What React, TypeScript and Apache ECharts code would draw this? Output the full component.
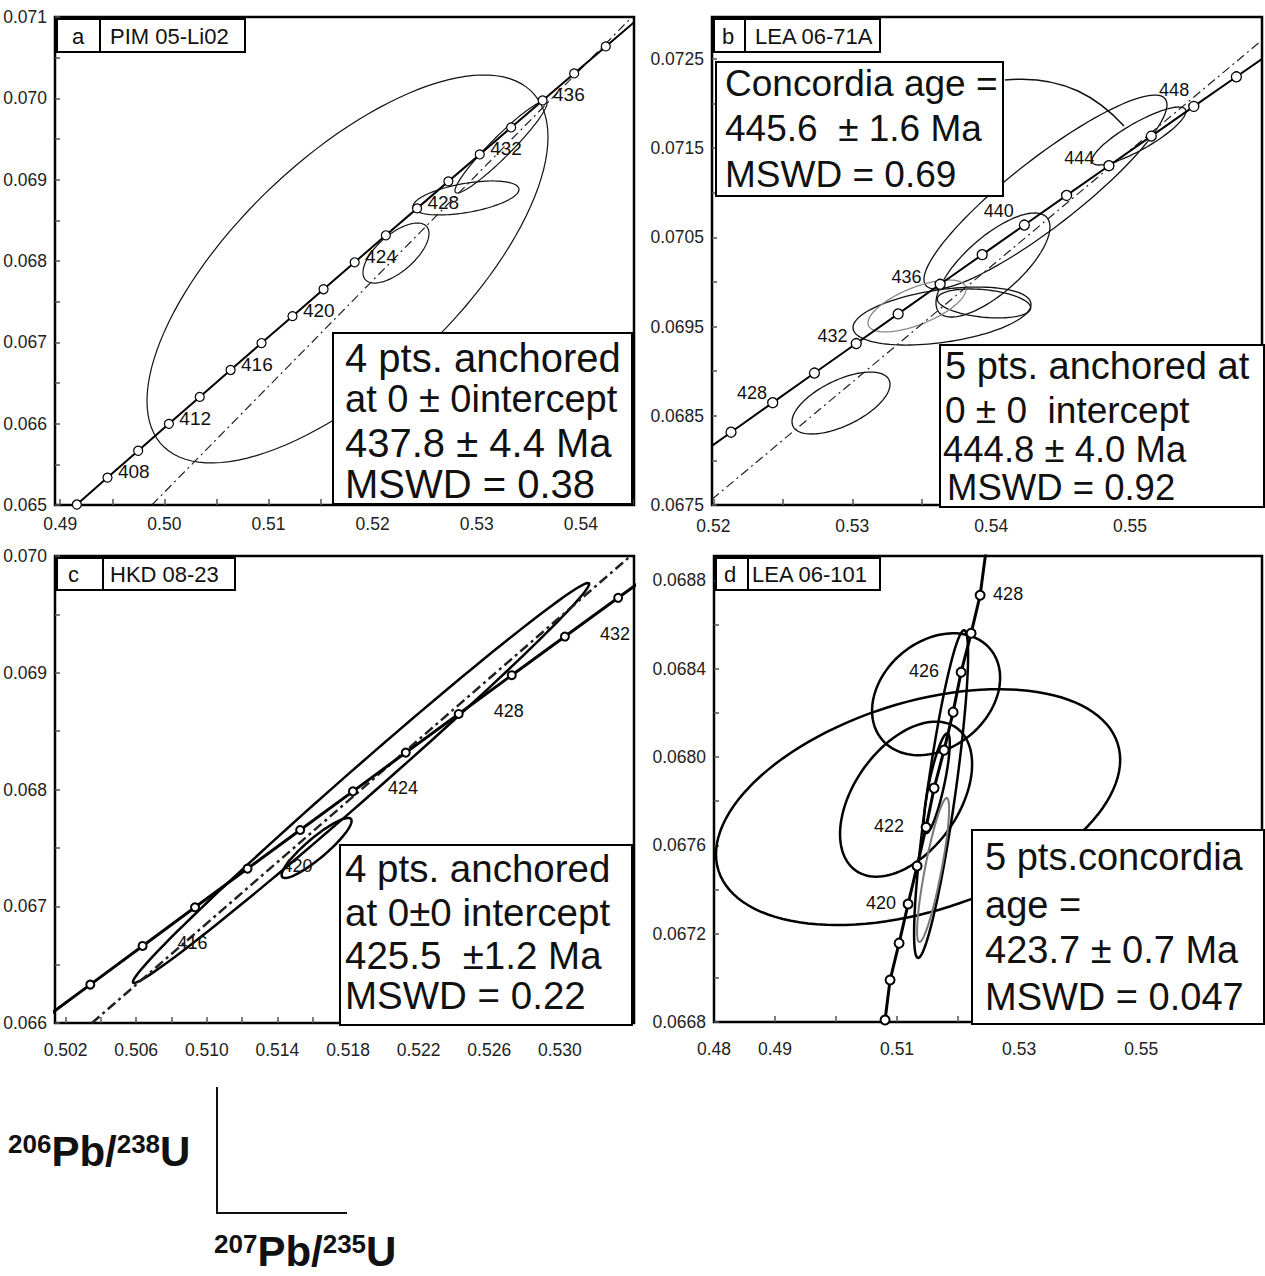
import React, { useEffect, useRef } from "react";
import * as echarts from "echarts";

// ===================== Panel a : PIM 05-Li02 =====================
const agesA = [404, 406, 408, 410, 412, 414, 416, 418, 420, 422, 424, 426, 428, 430, 432, 434, 436, 438, 440, 442, 444];
const xA = [0.488665, 0.4916, 0.494541, 0.497487, 0.50044, 0.503398, 0.506362, 0.509332, 0.512308, 0.515289, 0.518277, 0.52127, 0.52427, 0.527275, 0.530286, 0.533303, 0.536326, 0.539355, 0.54239, 0.545431, 0.548478];
const yA = [0.064676, 0.065006, 0.065337, 0.065667, 0.065998, 0.066329, 0.06666, 0.066991, 0.067322, 0.067653, 0.067984, 0.068316, 0.068647, 0.068979, 0.06931, 0.069642, 0.069974, 0.070306, 0.070638, 0.07097, 0.071303];
const labelAgesA = [408, 412, 416, 420, 424, 428, 432, 436];
const discXA = [0.4988, 0.5449];
const discYA = [0.065, 0.071];
// ellipse: [centre 207Pb/235U, centre 206Pb/238U, half-range x, half-range y, correlation]
const ellipsesA = [
  [0.517587, 0.067902, 0.019253, 0.002385, 0.68],
  [0.522244, 0.068098, 0.003169, 0.000369, 0.65],
  [0.528966, 0.068775, 0.005089, 0.000209, 0.5],
  [0.532327, 0.069402, 0.004417, 0.000566, 0.95],
];
const xTicksA = [0.49, 0.495, 0.5, 0.505, 0.51, 0.515, 0.52, 0.525, 0.53, 0.535, 0.54, 0.545];
const xLabelsA = [0.49, 0.5, 0.51, 0.52, 0.53, 0.54];
const yTicksA = [0.065, 0.0655, 0.066, 0.0665, 0.067, 0.0675, 0.068, 0.0685, 0.069, 0.0695, 0.07, 0.0705, 0.071];
const yLabelsA = [0.065, 0.066, 0.067, 0.068, 0.069, 0.07, 0.071];

// ===================== Panel b : LEA 06-71A =====================
const agesB = [424, 426, 428, 430, 432, 434, 436, 438, 440, 442, 444, 446, 448, 450, 452];
const xB = [0.518277, 0.52127, 0.52427, 0.527275, 0.530286, 0.533303, 0.536326, 0.539355, 0.54239, 0.545431, 0.548478, 0.551531, 0.55459, 0.557655, 0.560726];
const yB = [0.067984, 0.068316, 0.068647, 0.068979, 0.06931, 0.069642, 0.069974, 0.070306, 0.070638, 0.07097, 0.071303, 0.071635, 0.071968, 0.0723, 0.072633];
const labelAgesB = [428, 432, 436, 440, 444, 448];
const discXB = [0.5199, 0.5595];
const discYB = [0.067564, 0.07271];
const ellipsesB = [
  [0.54391, 0.071008, 0.008748, 0.001087, 0.9],
  [0.54013, 0.07019, 0.004104, 0.000583, 0.73],
  [0.539484, 0.069759, 0.003362, 0.0001625, -0.3],
  [0.53646, 0.069618, 0.006408, 0.000325, 0.4],
  [0.55064, 0.071636, 0.003384, 0.000325, 0.85],
  [0.529188, 0.068643, 0.003528, 0.000347, 0.6],
];
const ellipsesBGrey = [[0.53466, 0.069731, 0.003528, 0.000291, 0.65]];
const xTicksB = [0.52, 0.525, 0.53, 0.535, 0.54, 0.545, 0.55, 0.555];
const xLabelsB = [0.52, 0.53, 0.54, 0.55];
const yTicksB = [0.0675, 0.068, 0.0685, 0.069, 0.0695, 0.07, 0.0705, 0.071, 0.0715, 0.072, 0.0725];
const yLabelsB = [0.0675, 0.0685, 0.0695, 0.0705, 0.0715, 0.0725];

// ===================== Panel c : HKD 08-23 =====================
const agesC = [412, 414, 416, 418, 420, 422, 424, 426, 428, 430, 432, 434, 436];
const xC = [0.50044, 0.503398, 0.506362, 0.509332, 0.512308, 0.515289, 0.518277, 0.52127, 0.52427, 0.527275, 0.530286, 0.533303, 0.536326];
const yC = [0.065998, 0.066329, 0.06666, 0.066991, 0.067322, 0.067653, 0.067984, 0.068316, 0.068647, 0.068979, 0.06931, 0.069642, 0.069974];
const labelAgesC = [416, 420, 424, 428, 432];
const discXC = [0.50349, 0.534];
const discYC = [0.066, 0.07];
const ellipsesC = [
  [0.518737, 0.068056, 0.012925, 0.001713, 0.995],
  [0.51622, 0.067499, 0.00198, 0.000257, 0.9],
];
const xTicksC = [0.502, 0.504, 0.506, 0.508, 0.51, 0.512, 0.514, 0.516, 0.518, 0.52, 0.522, 0.524, 0.526, 0.528, 0.53, 0.532];
const xLabelsC = [0.502, 0.506, 0.51, 0.514, 0.518, 0.522, 0.526, 0.53];
const yTicksC = [0.066, 0.0665, 0.067, 0.0675, 0.068, 0.0685, 0.069, 0.0695, 0.07];
const yLabelsC = [0.066, 0.067, 0.068, 0.069, 0.07];

// ===================== Panel d : LEA 06-101 =====================
const agesD = [428, 427, 426, 425, 424, 423, 422, 421, 420, 419, 418, 417];
const xD = [0.523607, 0.522131, 0.520492, 0.51918, 0.517705, 0.516066, 0.514754, 0.513279, 0.511803, 0.510328, 0.508852, 0.508033];
const yD = [0.068732, 0.06856, 0.068384, 0.068203, 0.068031, 0.067859, 0.067682, 0.067506, 0.067334, 0.067157, 0.06699, 0.066809];
const lineXD = [0.5248, 0.523607, 0.522131, 0.520492, 0.51918, 0.517705, 0.516066, 0.514754, 0.513279, 0.511803, 0.510328, 0.508852, 0.508033, 0.5073];
const lineYD = [0.06898, 0.068732, 0.06856, 0.068384, 0.068203, 0.068031, 0.067859, 0.067682, 0.067506, 0.067334, 0.067157, 0.06699, 0.066809, 0.06672];
const labelAgesD = [428, 426, 422, 420];
const ellipsesD = [
  [0.516393, 0.068284, 0.010492, 0.000276, 0.27],
  [0.513443, 0.067773, 0.033115, 0.000534, 0.4],
  [0.511475, 0.067809, 0.01082, 0.000351, 0.45],
  [0.517213, 0.067832, 0.004426, 0.000742, 0.85],
  [0.516508, 0.067881, 0.00213, 0.000226, 0.8],
];
const ellipsesDGrey = [[0.515902, 0.067488, 0.002623, 0.000326, 0.85]];
const xTicksD = [0.49, 0.5, 0.51, 0.52, 0.53, 0.54, 0.55, 0.56];
const xLabelsD = [0.48, 0.49, 0.51, 0.53, 0.55];
const yTicksD = [0.0668, 0.067, 0.0672, 0.0674, 0.0676, 0.0678, 0.068, 0.0682, 0.0684, 0.0686, 0.0688];
const yLabelsD = [0.0668, 0.0672, 0.0676, 0.068, 0.0684, 0.0688];

// ===================== layout / style =====================
const FONT = "Liberation Sans";
const grids = [
  { left: 55, top: 17, width: 579, height: 488 },
  { left: 712, top: 17, width: 550, height: 488 },
  { left: 55, top: 556, width: 579, height: 467 },
  { left: 714, top: 556, width: 548, height: 466 },
];
const ranges = [
  { x: [0.4895, 0.5451], y: [0.065, 0.071] },
  { x: [0.5199, 0.5595], y: [0.0675, 0.07297] },
  { x: [0.5014, 0.5342], y: [0.066, 0.07] },
  { x: [0.48, 0.5698], y: [0.0668, 0.06891] },
];

function xAxisCfg(i: number, ticks: number[], labels: number[], digits: number, margin: number) {
  return {
    type: "value", gridIndex: i, min: ranges[i].x[0], max: ranges[i].x[1],
    axisLine: { show: false }, splitLine: { show: false },
    axisTick: { show: true, inside: true, length: 6, customValues: ticks, lineStyle: { color: "#555", width: 1.5 } },
    axisLabel: { show: true, customValues: labels, formatter: (v: number) => v.toFixed(digits), fontSize: 17.5, color: "#222", fontFamily: FONT, margin },
  };
}
function yAxisCfg(i: number, ticks: number[], labels: number[], digits: number) {
  return {
    type: "value", gridIndex: i, min: ranges[i].y[0], max: ranges[i].y[1],
    axisLine: { show: false }, splitLine: { show: false },
    axisTick: { show: true, inside: true, length: 5, customValues: ticks, lineStyle: { color: "#555", width: 1.5 } },
    axisLabel: { show: true, customValues: labels, formatter: (v: number) => v.toFixed(digits), fontSize: 17.5, color: "#222", fontFamily: FONT, margin: 8 },
  };
}

function lineSeries(i: number, xs: number[], ys: number[], width: number) {
  return {
    type: "line", xAxisIndex: i, yAxisIndex: i, data: xs.map((x, k) => [x, ys[k]]),
    showSymbol: false, symbol: "none", lineStyle: { color: "#000", width }, clip: true, z: 4, silent: true,
  };
}
function discSeries(i: number, xs: number[], ys: number[], width: number, dash: number[]) {
  return {
    type: "line", xAxisIndex: i, yAxisIndex: i, data: xs.map((x, k) => [x, ys[k]]),
    showSymbol: false, symbol: "none", lineStyle: { color: "#222", width, type: dash }, clip: true, z: 3, silent: true,
  };
}
function markerSeries(
  i: number, xs: number[], ys: number[], ages: number[], labeled: number[], size: number, bw: number,
  labelOf: (age: number) => { dx: number; dy: number; align: string }, fontSize: number
) {
  return {
    type: "scatter", xAxisIndex: i, yAxisIndex: i, clip: true, z: 6, silent: true,
    symbol: "circle", symbolSize: size,
    itemStyle: { color: "#fff", borderColor: "#000", borderWidth: bw, opacity: 1 },
    data: xs.map((x, k) => {
      const age = ages[k];
      if (!labeled.includes(age)) return { value: [x, ys[k]] };
      const l = labelOf(age);
      return {
        value: [x, ys[k]],
        label: {
          show: true, formatter: String(age), position: [size / 2 + l.dx, size / 2 + l.dy],
          align: l.align, verticalAlign: "middle", fontSize, fontFamily: FONT, color: "#111",
        },
      };
    }),
  };
}
function ellipseSeries(i: number, data: number[][], color: string, width: number) {
  return {
    type: "custom", xAxisIndex: i, yAxisIndex: i, clip: true, z: 2, silent: true,
    data, encode: { x: 0, y: 1 },
    renderItem: (params: any, api: any) => {
      const cx = api.value(0), cy = api.value(1), sx = api.value(2), sy = api.value(3), r = api.value(4);
      const k = Math.sqrt(1 - r * r);
      const pts: number[][] = [];
      const n = 120;
      for (let j = 0; j < n; j++) {
        const t = (j / n) * Math.PI * 2;
        const c = Math.cos(t), s = Math.sin(t);
        pts.push(api.coord([cx + sx * c, cy + sy * (r * c + k * s)]));
      }
      return { type: "polygon", shape: { points: pts }, style: { fill: "none", stroke: color, lineWidth: width } };
    },
  };
}

// graphic helpers
function rect(x: number, y: number, w: number, h: number, lw = 2) {
  return { type: "rect", z: 100, shape: { x, y, width: w, height: h }, style: { fill: "#fff", stroke: "#000", lineWidth: lw } };
}
function txt(x: number, y: number, text: string, size: number, align = "left") {
  return {
    type: "text", z: 101, x, y,
    style: { text, fontSize: size, lineHeight: size, fontFamily: FONT, fill: "#111", align, verticalAlign: "middle" },
  };
}
function isoLabel(x: number, y: number, a: string, b: string) {
  return {
    type: "text", z: 101, x, y,
    style: {
      text: `{s|${a}}{b|Pb/}{s|${b}}{b|U}`, verticalAlign: "middle", fill: "#111",
      rich: {
        s: { fontSize: 26, fontWeight: "bold", fontFamily: FONT, verticalAlign: "top", fill: "#111", lineHeight: 40 },
        b: { fontSize: 42, fontWeight: "bold", fontFamily: FONT, fill: "#111", lineHeight: 40 },
      },
    },
  };
}

const labelA = () => ({ dx: 11, dy: -5, align: "left" });
const offB: Record<number, number[]> = { 428: [-5, -9], 432: [-8, -7], 436: [-18, -7], 440: [-10, -13], 444: [-14, -7], 448: [-4, -16] };
const labelB = (a: number) => ({ dx: offB[a][0], dy: offB[a][1], align: "right" });
const labelC = () => ({ dx: 36, dy: -2, align: "left" });
const offD: Record<number, [number, number, string]> = { 428: [14, 0, "left"], 426: [-21, 0, "right"], 422: [-21, 0, "right"], 420: [-11, 0, "right"] };
const labelD = (a: number) => ({ dx: offD[a][0], dy: offD[a][1], align: offD[a][2] });

export default function App() {
  const ref = useRef<HTMLDivElement>(null);
  useEffect(() => {
    if (!ref.current) return;
    const chart = echarts.init(ref.current, undefined, { renderer: "svg" });
    const option: any = {
      animation: false,
      backgroundColor: "#fff",
      grid: grids.map((g) => ({ ...g, show: true, borderColor: "#000", borderWidth: 2.5, backgroundColor: "transparent" })),
      xAxis: [
        xAxisCfg(0, xTicksA, xLabelsA, 2, 10),
        xAxisCfg(1, xTicksB, xLabelsB, 2, 12),
        xAxisCfg(2, xTicksC, xLabelsC, 3, 18),
        xAxisCfg(3, xTicksD, xLabelsD, 2, 18),
      ],
      yAxis: [
        yAxisCfg(0, yTicksA, yLabelsA, 3),
        yAxisCfg(1, yTicksB, yLabelsB, 4),
        yAxisCfg(2, yTicksC, yLabelsC, 3),
        yAxisCfg(3, yTicksD, yLabelsD, 4),
      ],
      series: [
        // a
        ellipseSeries(0, ellipsesA, "#111", 1.2),
        discSeries(0, discXA, discYA, 1.2, [9, 4, 2, 4]),
        lineSeries(0, xA, yA, 2),
        markerSeries(0, xA, yA, agesA, labelAgesA, 9, 1.2, labelA, 19),
        // b
        ellipseSeries(1, ellipsesB, "#111", 1.3),
        ellipseSeries(1, ellipsesBGrey, "#888", 1.3),
        discSeries(1, discXB, discYB, 1.2, [9, 4, 2, 4]),
        lineSeries(1, xB, yB, 2),
        markerSeries(1, xB, yB, agesB, labelAgesB, 10, 1.3, labelB, 18),
        // c
        ellipseSeries(2, ellipsesC, "#000", 2.5),
        discSeries(2, discXC, discYC, 2.5, [10, 4, 3, 4]),
        lineSeries(2, xC, yC, 3),
        markerSeries(2, xC, yC, agesC, labelAgesC, 8, 2, labelC, 18),
        // d
        ellipseSeries(3, ellipsesD, "#000", 2.5),
        ellipseSeries(3, ellipsesDGrey, "#777", 2),
        lineSeries(3, lineXD, lineYD, 3),
        markerSeries(3, xD, yD, agesD, labelAgesD, 9, 2, labelD, 18),
      ],
      graphic: {
        elements: [
          // panel a
          rect(57, 19, 43, 33), txt(72, 36, "a", 22),
          rect(100, 19, 145, 33), txt(110, 36, "PIM 05-Li02", 22),
          rect(333, 333, 299, 171),
          txt(345, 358, "4 pts. anchored", 40),
          txt(345, 399, "at 0 ± 0intercept", 38),
          txt(345, 443, "437.8 ± 4.4 Ma", 40),
          txt(345, 484, "MSWD = 0.38", 40),
          // panel b
          rect(714, 19, 31, 33), txt(722, 36, "b", 22),
          rect(745, 19, 135, 33), txt(755, 36, "LEA 06-71A", 22),
          rect(716, 62, 287, 134),
          txt(725, 83, "Concordia age =", 37),
          txt(725, 128, "445.6  ± 1.6 Ma", 37),
          txt(725, 174, "MSWD = 0.69", 37),
          {
            type: "bezierCurve", z: 100,
            shape: { x1: 1005, y1: 80, cpx1: 1065, cpy1: 74, cpx2: 1100, cpy2: 100, x2: 1124, y2: 126 },
            style: { stroke: "#111", fill: "none", lineWidth: 1.5 },
          },
          rect(940, 345, 324, 162),
          txt(945, 366, "5 pts. anchored at", 38),
          txt(945, 410, "0 ± 0  intercept", 37),
          txt(943, 449, "444.8 ± 4.0 Ma", 36.5),
          txt(947, 487, "MSWD = 0.92", 36.5),
          // panel c
          rect(57, 558, 46, 32), txt(68, 574, "c", 22),
          rect(103, 558, 132, 32), txt(110, 574, "HKD 08-23", 22),
          rect(340, 845, 292, 180),
          txt(345, 868, "4 pts. anchored", 38.5),
          txt(345, 912, "at 0±0 intercept", 38.5),
          txt(345, 955, "425.5  ±1.2 Ma", 38.5),
          txt(345, 995, "MSWD = 0.22", 38.5),
          // panel d
          rect(716, 558, 32, 32), txt(724, 574, "d", 22),
          rect(748, 558, 132, 32), txt(752, 574, "LEA 06-101", 22),
          rect(972, 830, 292, 194),
          txt(985, 857, "5 pts.concordia", 38),
          txt(985, 905, "age =", 38),
          txt(985, 950, "423.7 ± 0.7 Ma", 38),
          txt(985, 997, "MSWD = 0.047", 38),
          // axes legend
          { type: "line", z: 100, shape: { x1: 217, y1: 1087, x2: 217, y2: 1214 }, style: { stroke: "#111", lineWidth: 2 } },
          { type: "line", z: 100, shape: { x1: 216, y1: 1213, x2: 347, y2: 1213 }, style: { stroke: "#111", lineWidth: 2 } },
          isoLabel(8, 1151, "206", "238"),
          isoLabel(214, 1251, "207", "235"),
        ],
      },
    };
    chart.setOption(option);
    return () => chart.dispose();
  }, []);
  return <div ref={ref} style={{ position: "fixed", left: 0, top: 0, width: 1265, height: 1276, background: "#fff" }} />;
}
